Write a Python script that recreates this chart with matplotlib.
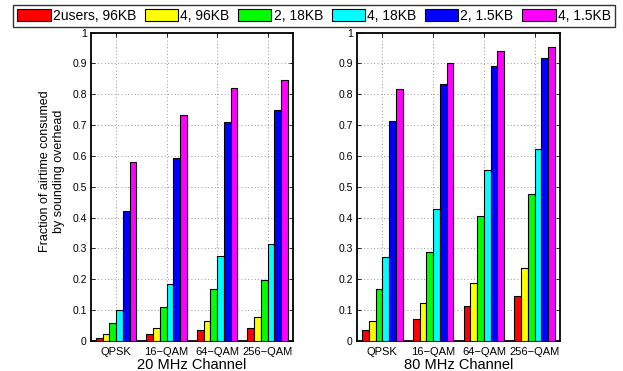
import matplotlib
matplotlib.use("Agg")
import matplotlib.pyplot as plt
import numpy as np

plt.rcParams['font.family'] = ['Liberation Sans', 'DejaVu Sans']

categories = ["QPSK", "16\u2212QAM", "64\u2212QAM", "256\u2212QAM"]
series_labels = ["2users, 96KB", "4, 96KB", "2, 18KB", "4, 18KB", "2, 1.5KB", "4, 1.5KB"]
colors = ["#ff0000", "#ffff00", "#00ff00", "#00ffff", "#0000ff", "#ff00ff"]

# values per series (rows) across modulations (columns)
mhz20 = [
    [0.011, 0.024, 0.037, 0.043],
    [0.021, 0.041, 0.066, 0.079],
    [0.057, 0.109, 0.170, 0.197],
    [0.102, 0.186, 0.276, 0.315],
    [0.423, 0.595, 0.711, 0.748],
    [0.579, 0.734, 0.822, 0.846],
]
mhz80 = [
    [0.037, 0.070, 0.113, 0.146],
    [0.066, 0.122, 0.188, 0.237],
    [0.170, 0.290, 0.405, 0.476],
    [0.272, 0.427, 0.554, 0.624],
    [0.712, 0.833, 0.892, 0.917],
    [0.818, 0.900, 0.939, 0.953],
]
yticks = [0, 0.1, 0.2, 0.3, 0.4, 0.5, 0.6, 0.7, 0.8, 0.9, 1]
ytick_labels = ["0", "0.1", "0.2", "0.3", "0.4", "0.5", "0.6", "0.7", "0.8", "0.9", "1"]

fig = plt.figure(figsize=(6.23, 3.71), dpi=100)
ax1 = fig.add_axes([0.146, 0.081, 0.324, 0.831])
ax2 = fig.add_axes([0.573, 0.081, 0.326, 0.831])

x = np.arange(1, len(categories) + 1)
n = len(series_labels)
bw = 0.8 / n

handles = []
for ax, data, title in [(ax1, mhz20, "20 MHz Channel"), (ax2, mhz80, "80 MHz Channel")]:
    for i in range(n):
        offs = (i - (n - 1) / 2) * bw
        h = ax.bar(x + offs, data[i], width=bw, color=colors[i], edgecolor="black",
                   linewidth=0.8, label=series_labels[i], zorder=3)
        if ax is ax1:
            handles.append(h)
    ax.set_xlim(0.5, 4.5)
    ax.set_ylim(0, 1)
    ax.set_xticks(x)
    ax.set_xticklabels(categories, fontsize=8)
    ax.set_yticks(yticks)
    ax.set_yticklabels(ytick_labels, fontsize=7.5)
    ax.tick_params(direction="in", top=True, right=True, length=3, width=0.6)
    ax.tick_params(axis="x", pad=4)
    ax.tick_params(axis="y", pad=3)
    ax.grid(True, linestyle=(0, (1, 3)), color="#777777", linewidth=0.6, zorder=0)
    for s in ax.spines.values():
        s.set_linewidth(1.3)
    ax.set_xlabel(title, fontsize=10.5, labelpad=1)

ax1.set_ylabel("Fraction of airtime consumed\nby sounding overhead", fontsize=9, labelpad=5)
ax1.yaxis.set_label_coords(-0.13, 0.55)

leg = fig.legend(handles=handles, labels=series_labels, loc="lower left",
                 bbox_to_anchor=(0.021, 0.927, 0.966, 0.06), mode="expand",
                 ncol=6, fontsize=10, frameon=True, fancybox=False,
                 handlelength=2.4, handleheight=1.0, handletextpad=0.15,
                 columnspacing=0.5, borderpad=0.3, borderaxespad=0)
leg.get_frame().set_edgecolor("black")
leg.get_frame().set_linewidth(1.0)

fig.savefig("out.png", dpi=100)
